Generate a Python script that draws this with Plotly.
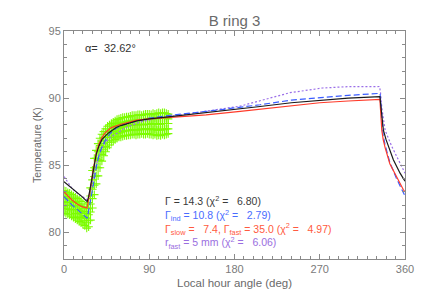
import plotly.graph_objects as go

# ---------------- data ----------------
green_cols_deg = list(range(0, 112, 2))
green_cols_temp = [
    [81.5, 81.9, 82.3, 82.7, 83.1],
    [81.4, 81.8, 82.25, 82.65, 83.05],
    [81.35, 81.75, 82.2, 82.6, 82.95],
    [81.3, 81.7, 82.1, 82.5, 82.9],
    [81.2, 81.6, 82.0, 82.4, 82.8],
    [81.1, 81.5, 81.9, 82.3, 82.7],
    [81.0, 81.4, 81.8, 82.2, 82.6],
    [80.9, 81.3, 81.7, 82.1, 82.5],
    [80.8, 81.2, 81.6, 82.0, 82.4],
    [80.7, 81.1, 81.5, 81.9, 82.3],
    [80.6, 81.0, 81.4, 81.75, 82.1],
    [80.5, 80.85, 81.2, 81.55, 81.9],
    [80.3, 80.7, 81.05, 81.4, 81.8],
    [80.4, 80.85, 81.3, 81.75, 82.2],
    [80.9, 81.5, 82.1, 82.7, 83.3],
    [81.8, 82.5, 83.2, 83.9, 84.6],
    [82.8, 83.5, 84.15, 84.8, 85.5],
    [83.6, 84.2, 84.85, 85.5, 86.1],
    [84.2, 84.8, 85.4, 86.0, 86.6],
    [84.8, 85.35, 85.9, 86.45, 87.0],
    [85.3, 85.8, 86.3, 86.8, 87.3],
    [85.7, 86.15, 86.6, 87.05, 87.5],
    [86.0, 86.4, 86.85, 87.3, 87.7],
    [86.3, 86.7, 87.1, 87.5, 87.9],
    [86.5, 86.85, 87.25, 87.6, 88.0],
    [86.7, 87.05, 87.4, 87.75, 88.1],
    [86.8, 87.15, 87.5, 87.85, 88.2],
    [86.9, 87.25, 87.6, 87.95, 88.3],
    [87.0, 87.35, 87.7, 88.05, 88.4],
    [87.1, 87.4, 87.75, 88.1, 88.45],
    [87.1, 87.45, 87.8, 88.15, 88.5],
    [87.15, 87.5, 87.85, 88.2, 88.55],
    [87.2, 87.55, 87.9, 88.2, 88.55],
    [87.2, 87.55, 87.9, 88.25, 88.6],
    [87.25, 87.6, 87.95, 88.3, 88.6],
    [87.25, 87.6, 87.95, 88.3, 88.65],
    [87.3, 87.65, 88.0, 88.35, 88.7],
    [87.3, 87.65, 88.0, 88.35, 88.7],
    [87.25, 87.6, 88.0, 88.35, 88.7],
    [87.3, 87.65, 88.0, 88.4, 88.75],
    [87.3, 87.65, 88.05, 88.4, 88.75],
    [87.35, 87.7, 88.05, 88.4, 88.7],
    [87.3, 87.65, 88.0, 88.4, 88.75],
    [87.3, 87.7, 88.05, 88.4, 88.8],
    [87.35, 87.7, 88.05, 88.45, 88.8],
    [87.3, 87.65, 88.05, 88.45, 88.8],
    [87.3, 87.7, 88.1, 88.45, 88.75],
    [87.25, 87.65, 88.05, 88.45, 88.85],
    [87.3, 87.7, 88.1, 88.5, 88.8],
    [87.2, 87.6, 88.05, 88.45, 88.85],
    [87.25, 87.65, 88.05, 88.5, 88.9],
    [87.2, 87.6, 88.05, 88.5, 88.85],
    [87.3, 87.7, 88.1, 88.5, 88.9],
    [87.25, 87.65, 88.1, 88.5, 88.9],
    [87.3, 87.7, 88.1, 88.5, 88.85],
    [87.35, 87.7, 88.1, 88.45, 88.8],
]

black_deg = [0, 8.4, 19, 24.5, 26, 28, 30, 32, 34, 37, 40, 44, 47, 55, 60, 77, 90, 110, 150, 186, 207,
             240, 270, 300, 333.5, 334.5, 335.5, 337.2, 340, 342.5, 347.7, 354.8, 360]
black_temp = [83.77, 83.3, 82.65, 82.28, 82.65, 83.4, 84.3, 85.1, 85.8, 86.45, 86.9, 87.2, 87.4, 87.8, 87.95,
              88.3, 88.45, 88.6, 88.9, 89.2, 89.37, 89.65, 89.85, 90.0, 90.11, 89.3, 88.5, 87.6, 86.9,
              86.4, 85.4, 84.4, 83.8]

red_deg = [0, 4, 8.4, 14, 19, 24.3, 26, 28, 30, 32, 34, 37, 40, 43.3, 50, 60, 77, 90, 110, 150, 186, 207,
           240, 270, 300, 333.5, 334.3, 335.5, 337, 339, 344, 351, 358, 360]
red_temp = [83.0, 82.7, 82.4, 82.1, 81.9, 81.8, 82.4, 83.3, 84.3, 85.2, 85.9, 86.6, 87.05, 87.4, 87.8, 88.05,
            88.35, 88.45, 88.55, 88.75, 89.0, 89.17, 89.45, 89.65, 89.78, 89.9, 89.0, 87.6, 86.9, 86.3,
            85.1, 84.1, 83.2, 83.0]

blue_deg = [0, 4, 8.4, 14, 19, 24.5, 26, 28, 30, 32, 34.5, 37, 40, 44, 48.6, 55, 60, 77, 90, 110, 150, 186,
            207, 240, 270, 300, 333.7, 334.5, 335.5, 337, 339, 344, 351, 358, 360]
blue_temp = [82.65, 82.35, 82.03, 81.7, 81.4, 81.04, 81.6, 82.3, 83.1, 83.95, 85.0, 85.75, 86.35, 86.9,
             87.35, 87.75, 87.95, 88.3, 88.5, 88.7, 89.0, 89.3, 89.5, 89.85, 90.05, 90.2, 90.35, 89.5,
             88.3, 87.2, 86.5, 85.2, 84.0, 82.95, 82.7]

purple_deg = [0, 4, 8.4, 14, 19, 25, 27, 29, 31, 34, 38.7, 44, 50, 55.7, 65, 80, 95, 110, 150, 186, 207,
              238.6, 273, 300, 333, 334, 335.5, 337, 339, 346, 353, 358, 360]
purple_temp = [84.15, 83.7, 83.27, 82.9, 82.65, 82.4, 82.8, 83.4, 84.1, 85.0, 86.1, 86.75, 87.1, 87.38,
               87.8, 88.2, 88.45, 88.6, 89.05, 89.4, 89.8, 90.4, 90.75, 90.85, 90.86, 90.5, 89.3, 88.4,
               87.6, 86.4, 85.4, 84.75, 84.4]

x_ticks = [0, 90, 180, 270, 360]
y_ticks = [80, 85, 90, 95]

NB = "\u00a0"
legend_texts = [
    "Γ = 14.3 (χ<sup>2</sup> =" + NB * 3 + "6.80)",
    "Γ<sub>ind</sub> = 10.8 (χ<sup>2</sup> =" + NB * 3 + "2.79)",
    "Γ<sub>slow</sub> =" + NB * 3 + "7.4, Γ<sub>fast</sub> = 35.0 (χ<sup>2</sup> =" + NB * 3 + "4.97)",
    "r<sub>fast</sub> = 5 mm (χ<sup>2</sup> =" + NB * 3 + "6.06)",
]
legend_colors = ["#3a3a3a", "#4a6cff", "#ff5a40", "#9a6ee0"]
legend_deg = 104.5
legend_temp_center = 80.71

# ---------------- figure ----------------
# The page body has an 8px default margin; figure sized so the plot lands where the reference has it.
W, H = 411, 289
ML, MR, MT, MB = 56, 14, 23, 38

gx, gy = [], []
for d, ts in zip(green_cols_deg, green_cols_temp):
    for t in ts:
        gx.append(d)
        gy.append(t)

fig = go.Figure()
fig.add_trace(go.Scatter(x=gx, y=gy, mode="markers",
                         marker=dict(symbol="cross-thin", size=6, color="#7cfc00",
                                     line=dict(color="#7cfc00", width=1.1)),
                         hoverinfo="skip"))
fig.add_trace(go.Scatter(x=purple_deg, y=purple_temp, mode="lines",
                         line=dict(color="#9a6ee8", width=1.2, dash="2px,2px")))
fig.add_trace(go.Scatter(x=blue_deg, y=blue_temp, mode="lines",
                         line=dict(color="#3a5cff", width=1.2, dash="6px,3px")))
fig.add_trace(go.Scatter(x=red_deg, y=red_temp, mode="lines",
                         line=dict(color="#ff3b2a", width=1.2)))
fig.add_trace(go.Scatter(x=black_deg, y=black_temp, mode="lines",
                         line=dict(color="#1a1a1a", width=1.2)))

legend_html = "<br>".join(
    '<span style="color:%s">%s</span>' % (c, t) for t, c in zip(legend_texts, legend_colors)
)
fig.add_annotation(x=legend_deg, y=legend_temp_center, xref="x", yref="y", text=legend_html,
                   showarrow=False, xanchor="left", yanchor="middle", align="left",
                   font=dict(family="Liberation Sans", size=10.5, color="#3a3a3a"))

fig.add_annotation(x=19.7, y=93.77, xref="x", yref="y", text="α=" + NB * 2 + "32.62°",
                   showarrow=False, xanchor="left", yanchor="middle",
                   font=dict(family="Liberation Sans", size=11, color="#333333"))

# axis titles placed as annotations (exact positions)
fig.add_annotation(x=0, y=0.5, xref="paper", yref="paper", text="Temperature (K)", textangle=-90,
                   showarrow=False, xanchor="center", yanchor="middle", xshift=-27,
                   font=dict(family="Liberation Sans", size=10.5, color="#6a6a6a"))
fig.add_annotation(x=0.5, y=0, xref="paper", yref="paper", text="Local hour angle (deg)",
                   showarrow=False, xanchor="center", yanchor="middle", yshift=-24,
                   font=dict(family="Liberation Sans", size=11.5, color="#6a6a6a"))

axis_common = dict(showgrid=False, zeroline=False, showline=True, linecolor="#8a8a8a", linewidth=1,
                   mirror="allticks", ticks="inside", ticklen=5, tickcolor="#8a8a8a", tickwidth=1,
                   automargin=False,
                   tickfont=dict(family="Liberation Sans", size=11, color="#7a7a7a"))

fig.update_xaxes(range=[0, 360], tickvals=x_ticks, ticktext=[str(v) for v in x_ticks],
                 minor=dict(dtick=10, ticks="inside", ticklen=3, tickcolor="#8a8a8a"),
                 **axis_common)
fig.update_yaxes(range=[78, 95], tickvals=y_ticks, ticktext=[str(v) for v in y_ticks],
                 minor=dict(dtick=1, ticks="inside", ticklen=3, tickcolor="#8a8a8a"),
                 **axis_common)

fig.update_layout(
    width=W, height=H,
    margin=dict(l=ML, r=MR, t=MT, b=MB, autoexpand=False),
    paper_bgcolor="white", plot_bgcolor="white",
    showlegend=False,
    title=dict(text="B ring 3", x=226.5 / W, xref="container", xanchor="center",
               y=1 - 12.5 / H, yref="container", yanchor="middle",
               font=dict(family="Liberation Sans", size=15, color="#6a6a6a")),
)

fig.write_html("out.html")
